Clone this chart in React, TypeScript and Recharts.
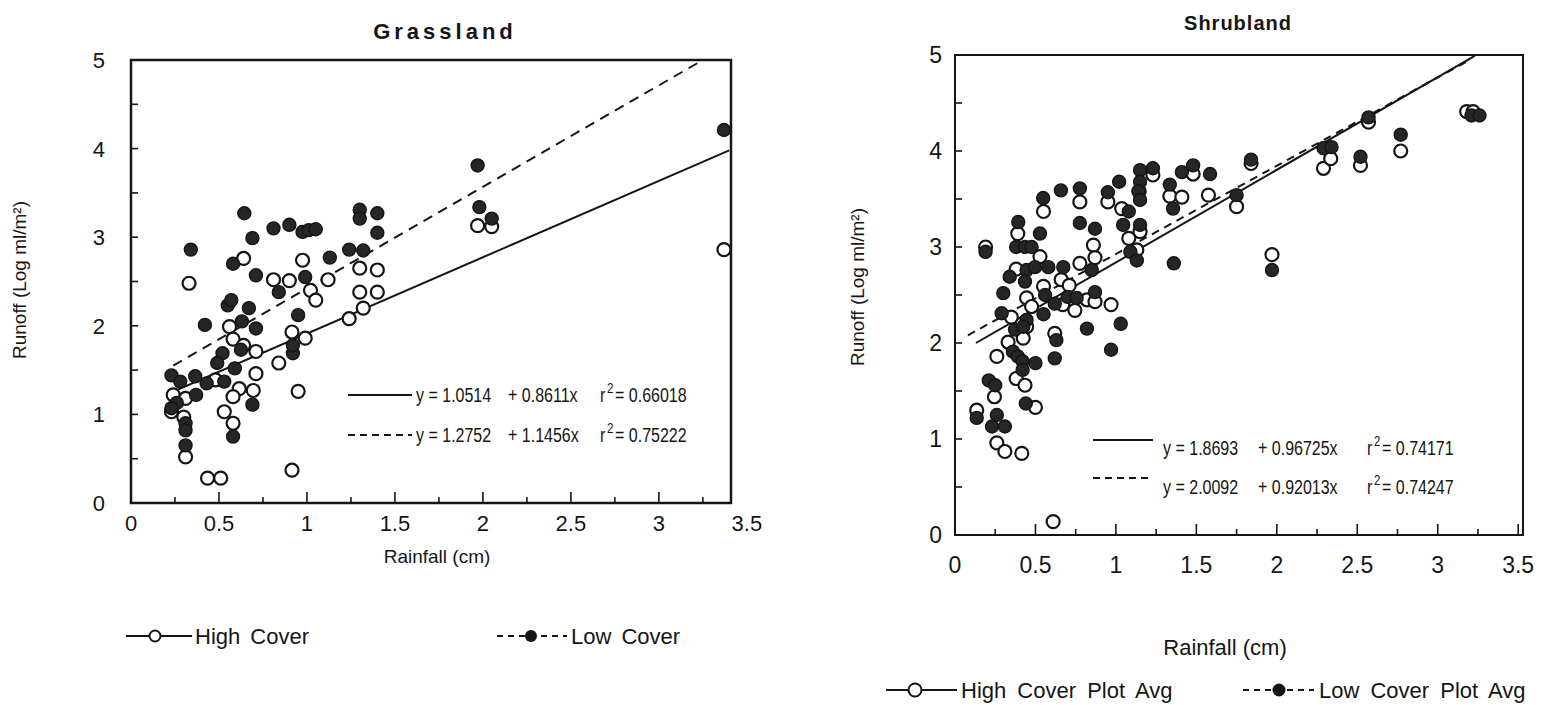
// @ts-nocheck
import React from 'react';
import { ScatterChart, Scatter, XAxis, YAxis, ReferenceArea } from 'recharts';

// ---- Grassland ----
const grassHigh = [
  { x: 0.33, y: 2.48 }, { x: 0.64, y: 2.76 }, { x: 0.975, y: 2.74 }, { x: 0.81, y: 2.52 },
  { x: 0.9, y: 2.51 }, { x: 1.02, y: 2.4 }, { x: 1.05, y: 2.29 }, { x: 1.12, y: 2.52 },
  { x: 1.24, y: 2.08 }, { x: 0.56, y: 1.99 }, { x: 0.58, y: 1.85 }, { x: 0.64, y: 1.78 },
  { x: 0.71, y: 1.71 }, { x: 0.915, y: 1.93 }, { x: 0.99, y: 1.86 }, { x: 0.84, y: 1.58 },
  { x: 0.71, y: 1.46 }, { x: 0.615, y: 1.29 }, { x: 0.695, y: 1.27 }, { x: 0.58, y: 1.2 },
  { x: 0.48, y: 1.39 }, { x: 0.24, y: 1.22 }, { x: 0.31, y: 1.18 }, { x: 0.23, y: 1.03 },
  { x: 0.3, y: 0.97 }, { x: 0.53, y: 1.03 }, { x: 0.58, y: 0.9 }, { x: 0.31, y: 0.52 },
  { x: 0.95, y: 1.26 }, { x: 0.435, y: 0.28 }, { x: 0.51, y: 0.28 }, { x: 0.915, y: 0.37 },
  { x: 1.3, y: 2.65 }, { x: 1.4, y: 2.63 }, { x: 1.3, y: 2.38 }, { x: 1.4, y: 2.38 },
  { x: 1.32, y: 2.2 }, { x: 1.97, y: 3.13 }, { x: 2.05, y: 3.12 }, { x: 3.37, y: 2.86 },
];
const grassLow = [
  { x: 0.644, y: 3.27 }, { x: 0.34, y: 2.86 }, { x: 0.81, y: 3.1 }, { x: 0.9, y: 3.14 },
  { x: 0.975, y: 3.06 }, { x: 1.01, y: 3.08 }, { x: 1.05, y: 3.09 }, { x: 0.69, y: 2.99 },
  { x: 0.58, y: 2.7 }, { x: 0.71, y: 2.57 }, { x: 1.13, y: 2.77 }, { x: 0.99, y: 2.55 },
  { x: 0.84, y: 2.38 }, { x: 0.55, y: 2.23 }, { x: 0.57, y: 2.29 }, { x: 0.67, y: 2.2 },
  { x: 0.63, y: 2.05 }, { x: 0.71, y: 1.97 }, { x: 0.42, y: 2.01 }, { x: 0.95, y: 2.12 },
  { x: 0.52, y: 1.69 }, { x: 0.49, y: 1.58 }, { x: 0.625, y: 1.73 }, { x: 0.59, y: 1.52 },
  { x: 0.92, y: 1.69 }, { x: 0.92, y: 1.78 }, { x: 0.23, y: 1.44 }, { x: 0.28, y: 1.37 },
  { x: 0.365, y: 1.43 }, { x: 0.43, y: 1.35 }, { x: 0.53, y: 1.37 }, { x: 0.37, y: 1.22 },
  { x: 0.26, y: 1.13 }, { x: 0.23, y: 1.07 }, { x: 0.31, y: 0.9 }, { x: 0.31, y: 0.82 },
  { x: 0.31, y: 0.65 }, { x: 0.69, y: 1.11 }, { x: 0.58, y: 0.75 }, { x: 1.3, y: 3.31 },
  { x: 1.3, y: 3.21 }, { x: 1.4, y: 3.27 }, { x: 1.4, y: 3.05 }, { x: 1.24, y: 2.86 },
  { x: 1.32, y: 2.85 }, { x: 1.98, y: 3.34 }, { x: 2.05, y: 3.21 }, { x: 1.97, y: 3.81 },
  { x: 3.37, y: 4.21 },
];
// fitted lines (end points as drawn)
const grassFitHigh = [{ x: 0.22, y: 1.24 }, { x: 3.4, y: 3.98 }];
const grassFitLow = [{ x: 0.24, y: 1.55 }, { x: 3.25, y: 5.0 }];

// ---- Shrubland ----
const shrubHigh = [
  { x: 0.55, y: 3.37 }, { x: 0.39, y: 3.14 }, { x: 0.776, y: 3.47 }, { x: 0.95, y: 3.47 },
  { x: 0.19, y: 3.0 }, { x: 0.528, y: 2.9 }, { x: 0.86, y: 3.02 }, { x: 0.87, y: 2.89 },
  { x: 0.776, y: 2.83 }, { x: 0.38, y: 2.77 }, { x: 0.66, y: 2.66 }, { x: 0.55, y: 2.59 },
  { x: 0.71, y: 2.6 }, { x: 0.445, y: 2.47 }, { x: 0.67, y: 2.4 }, { x: 0.745, y: 2.34 },
  { x: 0.82, y: 2.45 }, { x: 0.87, y: 2.43 }, { x: 0.97, y: 2.4 }, { x: 0.476, y: 2.38 },
  { x: 0.35, y: 2.27 }, { x: 0.445, y: 2.17 }, { x: 0.424, y: 2.05 }, { x: 0.33, y: 2.01 },
  { x: 0.62, y: 2.1 }, { x: 0.26, y: 1.86 }, { x: 0.38, y: 1.63 }, { x: 0.435, y: 1.56 },
  { x: 0.245, y: 1.44 }, { x: 0.5, y: 1.33 }, { x: 0.135, y: 1.3 }, { x: 0.26, y: 0.96 },
  { x: 0.31, y: 0.87 }, { x: 0.415, y: 0.85 }, { x: 0.61, y: 0.14 }, { x: 1.23, y: 3.75 },
  { x: 1.036, y: 3.4 }, { x: 1.145, y: 3.58 }, { x: 1.335, y: 3.53 }, { x: 1.41, y: 3.52 },
  { x: 1.48, y: 3.76 }, { x: 1.575, y: 3.54 }, { x: 1.75, y: 3.42 }, { x: 1.15, y: 3.16 },
  { x: 1.08, y: 3.09 }, { x: 1.13, y: 2.97 }, { x: 1.84, y: 3.87 }, { x: 2.29, y: 3.82 },
  { x: 2.335, y: 3.92 }, { x: 2.57, y: 4.3 }, { x: 2.52, y: 3.85 }, { x: 2.77, y: 4.0 },
  { x: 1.97, y: 2.92 }, { x: 3.18, y: 4.41 }, { x: 3.22, y: 4.41 },
];
const shrubLow = [
  { x: 0.658, y: 3.59 }, { x: 0.776, y: 3.61 }, { x: 0.95, y: 3.57 }, { x: 0.548, y: 3.51 },
  { x: 0.393, y: 3.26 }, { x: 0.528, y: 3.14 }, { x: 0.776, y: 3.25 }, { x: 0.87, y: 3.19 },
  { x: 0.19, y: 2.95 }, { x: 0.38, y: 3.0 }, { x: 0.435, y: 3.0 }, { x: 0.476, y: 3.0 },
  { x: 0.34, y: 2.69 }, { x: 0.445, y: 2.76 }, { x: 0.497, y: 2.79 }, { x: 0.58, y: 2.79 },
  { x: 0.673, y: 2.79 }, { x: 0.85, y: 2.76 }, { x: 0.435, y: 2.64 }, { x: 0.3, y: 2.52 },
  { x: 0.56, y: 2.5 }, { x: 0.62, y: 2.41 }, { x: 0.7, y: 2.48 }, { x: 0.756, y: 2.47 },
  { x: 0.87, y: 2.53 }, { x: 0.29, y: 2.31 }, { x: 0.55, y: 2.3 }, { x: 0.445, y: 2.24 },
  { x: 0.373, y: 2.14 }, { x: 0.424, y: 2.17 }, { x: 0.63, y: 2.03 }, { x: 0.82, y: 2.15 },
  { x: 0.97, y: 1.93 }, { x: 0.36, y: 1.91 }, { x: 0.39, y: 1.86 }, { x: 0.42, y: 1.81 },
  { x: 0.5, y: 1.79 }, { x: 0.62, y: 1.84 }, { x: 0.42, y: 1.72 }, { x: 0.21, y: 1.61 },
  { x: 0.25, y: 1.56 }, { x: 0.44, y: 1.37 }, { x: 0.26, y: 1.25 }, { x: 0.135, y: 1.22 },
  { x: 0.23, y: 1.13 }, { x: 0.31, y: 1.13 }, { x: 1.02, y: 3.68 }, { x: 1.15, y: 3.8 },
  { x: 1.23, y: 3.82 }, { x: 1.15, y: 3.68 }, { x: 1.14, y: 3.58 }, { x: 1.15, y: 3.49 },
  { x: 1.08, y: 3.37 }, { x: 1.045, y: 3.23 }, { x: 1.15, y: 3.23 }, { x: 1.09, y: 2.95 },
  { x: 1.13, y: 2.86 }, { x: 1.36, y: 2.83 }, { x: 1.335, y: 3.65 }, { x: 1.355, y: 3.4 },
  { x: 1.41, y: 3.78 }, { x: 1.48, y: 3.85 }, { x: 1.585, y: 3.76 }, { x: 1.75, y: 3.54 },
  { x: 1.84, y: 3.91 }, { x: 1.03, y: 2.2 }, { x: 2.29, y: 4.03 }, { x: 2.34, y: 4.04 },
  { x: 2.57, y: 4.35 }, { x: 2.52, y: 3.94 }, { x: 2.77, y: 4.17 }, { x: 1.97, y: 2.76 },
  { x: 3.21, y: 4.37 }, { x: 3.26, y: 4.37 },
];
const shrubFitHigh = [{ x: 0.13, y: 2.0 }, { x: 3.23, y: 4.99 }];
const shrubFitLow = [{ x: 0.08, y: 2.08 }, { x: 3.2, y: 4.95 }];

const xTicks = [0, 0.25, 0.5, 0.75, 1, 1.25, 1.5, 1.75, 2, 2.25, 2.5, 2.75, 3, 3.25, 3.5];
const yTicks = [0, 0.5, 1, 1.5, 2, 2.5, 3, 3.5, 4, 4.5, 5];

const INK = '#151515';
const FONT = "'Liberation Sans', Arial, Helvetica, sans-serif";

const OpenDot = (p) => <circle cx={p.cx} cy={p.cy} r={6.5} fill="#fff" stroke={INK} strokeWidth={2.2} />;
const FilledDot = (p) => <circle cx={p.cx} cy={p.cy} r={6.5} fill="#262626" stroke={INK} strokeWidth={1.4} />;
const NoDot = () => <g />;

function Panel({ left, top, width, height, margin, xMax, high, low, fitHigh, fitLow, font, xGap, yGap, dash, box }) {
  const XTick = ({ x, y, payload }) => {
    const v = payload.value;
    const major = Math.abs(v * 2 - Math.round(v * 2)) < 1e-6;
    return (
      <g>
        {v > 0 && v < xMax && (
          <line x1={x} x2={x} y1={y} y2={y - (major ? 11 : 6)} stroke={INK} strokeWidth={1.6} />
        )}
        {major && (
          <text x={x} y={y + xGap} textAnchor="middle" fontSize={font} fontFamily={FONT} fill={INK}>
            {v}
          </text>
        )}
      </g>
    );
  };
  const YTick = ({ x, y, payload }) => {
    const v = payload.value;
    return (
      <g>
        {v > 0 && v < 5 && <line x1={x} x2={x + 7} y1={y} y2={y} stroke={INK} strokeWidth={1.6} />}
        {Number.isInteger(v) && (
          <text x={x - yGap} y={y + font * 0.36} textAnchor="end" fontSize={font} fontFamily={FONT} fill={INK}>
            {v}
          </text>
        )}
      </g>
    );
  };
  return (
    <div style={{ position: 'absolute', left, top, width, height }}>
      <ScatterChart width={width} height={height} margin={margin}>
        <XAxis
          type="number" dataKey="x" domain={[0, xMax]} allowDataOverflow ticks={xTicks} interval={0}
          height={40} axisLine={false} tickLine={false} tickSize={0} tickMargin={0} tick={XTick}
        />
        <YAxis
          type="number" dataKey="y" domain={[0, 5]} allowDataOverflow ticks={yTicks} interval={0}
          width={50} axisLine={false} tickLine={false} tickSize={0} tickMargin={0} tick={YTick}
        />
        <ReferenceArea x1={0} x2={xMax} y1={0} y2={5} fill="none" fillOpacity={0} stroke={INK} strokeWidth={box} />
        <Scatter data={fitHigh} shape={NoDot} line={{ stroke: INK, strokeWidth: 2 }} lineType="joint" isAnimationActive={false} />
        <Scatter data={fitLow} shape={NoDot} line={{ stroke: INK, strokeWidth: 2, strokeDasharray: dash }} lineType="joint" isAnimationActive={false} />
        <Scatter data={high} shape={OpenDot} isAnimationActive={false} />
        <Scatter data={low} shape={FilledDot} isAnimationActive={false} />
      </ScatterChart>
    </div>
  );
}

// condensed text, as in the regression annotations
function Narrow({ x, y, size, children }) {
  return (
    <text transform={`translate(${x},${y}) scale(0.8,1)`} fontSize={size}>{children}</text>
  );
}

function Equation({ x, y, lineX1, lineX2, lineY, dashed, a, b, r2, cols, size }) {
  return (
    <g fontFamily={FONT} fill={INK}>
      <line x1={lineX1} x2={lineX2} y1={lineY} y2={lineY} stroke={INK} strokeWidth={2} strokeDasharray={dashed ? '7 5' : undefined} />
      <Narrow x={x} y={y} size={size}>{`y = ${a}`}</Narrow>
      <Narrow x={cols[0]} y={y} size={size}>{`+ ${b}x`}</Narrow>
      <Narrow x={cols[1]} y={y} size={size}>r</Narrow>
      <Narrow x={cols[1] + 7} y={y - 9} size={size * 0.72}>2</Narrow>
      <Narrow x={cols[1] + 15} y={y} size={size}>{`= ${r2}`}</Narrow>
    </g>
  );
}

export default function App() {
  return (
    <div style={{ position: 'absolute', left: 0, top: 0, width: 1565, height: 705, background: '#fff', overflow: 'hidden' }}>
      <Panel
        left={0} top={0} width={790} height={580}
        margin={{ top: 60, right: 59, bottom: 37, left: 81 }}
        xMax={3.41} high={grassHigh} low={grassLow} fitHigh={grassFitHigh} fitLow={grassFitLow}
        font={22} xGap={28} yGap={26} dash="10 7" box={2.5}
      />
      <Panel
        left={800} top={0} width={765} height={600}
        margin={{ top: 55, right: 42, bottom: 25, left: 105 }}
        xMax={3.53} high={shrubHigh} low={shrubLow} fitHigh={shrubFitHigh} fitLow={shrubFitLow}
        font={23} xGap={38} yGap={13} dash="8 6" box={2}
      />
      <svg width={1565} height={705} style={{ position: 'absolute', left: 0, top: 0, pointerEvents: 'none' }}>
        {/* Grassland texts */}
        <text x={445} y={39} textAnchor="middle" fontSize={22} fontWeight="bold" letterSpacing={4} fontFamily={FONT} fill={INK}>Grassland</text>
        <text transform="translate(26,280) rotate(-90)" textAnchor="middle" fontSize={19} fontFamily={FONT} fill={INK}>Runoff (Log ml/m²)</text>
        <text x={437} y={563} textAnchor="middle" fontSize={19} fontFamily={FONT} fill={INK}>Rainfall (cm)</text>
        <Equation x={416} y={402} lineX1={348} lineX2={412} lineY={395} a="1.0514" b="0.8611" r2="0.66018" cols={[508, 600]} size={20} />
        <Equation x={416} y={442} lineX1={348} lineX2={412} lineY={435} dashed a="1.2752" b="1.1456" r2="0.75222" cols={[508, 600]} size={20} />
        <g fontFamily={FONT} fontSize={22} fill={INK}>
          <line x1={126} x2={192} y1={636} y2={636} stroke={INK} strokeWidth={2} />
          <circle cx={155} cy={636} r={5.5} fill="#fff" stroke={INK} strokeWidth={2} />
          <text x={195} y={644} wordSpacing={4}>High Cover</text>
          <line x1={497} x2={567} y1={636} y2={636} stroke={INK} strokeWidth={2} strokeDasharray="6 5" />
          <circle cx={531} cy={636} r={6} fill={INK} />
          <text x={571} y={644} wordSpacing={4}>Low Cover</text>
        </g>

        {/* Shrubland texts */}
        <text x={1238} y={30} textAnchor="middle" fontSize={20} fontWeight="bold" letterSpacing={1} fontFamily={FONT} fill={INK}>Shrubland</text>
        <text transform="translate(864,287) rotate(-90)" textAnchor="middle" fontSize={19} fontFamily={FONT} fill={INK}>Runoff (Log ml/m²)</text>
        <text x={1225} y={655} textAnchor="middle" fontSize={22} fontFamily={FONT} fill={INK}>Rainfall (cm)</text>
        <Equation x={1163} y={455} lineX1={1093} lineX2={1153} lineY={440} a="1.8693" b="0.96725" r2="0.74171" cols={[1258, 1367]} size={20} />
        <Equation x={1163} y={494} lineX1={1093} lineX2={1153} lineY={478} dashed a="2.0092" b="0.92013" r2="0.74247" cols={[1258, 1367]} size={20} />
        <g fontFamily={FONT} fontSize={22} fill={INK}>
          <line x1={886} x2={957} y1={690} y2={690} stroke={INK} strokeWidth={2} />
          <circle cx={915} cy={690} r={6.5} fill="#fff" stroke={INK} strokeWidth={2} />
          <text x={961} y={698} wordSpacing={5}>High Cover Plot Avg</text>
          <line x1={1243} x2={1314} y1={690} y2={690} stroke={INK} strokeWidth={2} strokeDasharray="6 5" />
          <circle cx={1279} cy={690} r={6.5} fill={INK} />
          <text x={1319} y={698} wordSpacing={5}>Low Cover Plot Avg</text>
        </g>
      </svg>
    </div>
  );
}
